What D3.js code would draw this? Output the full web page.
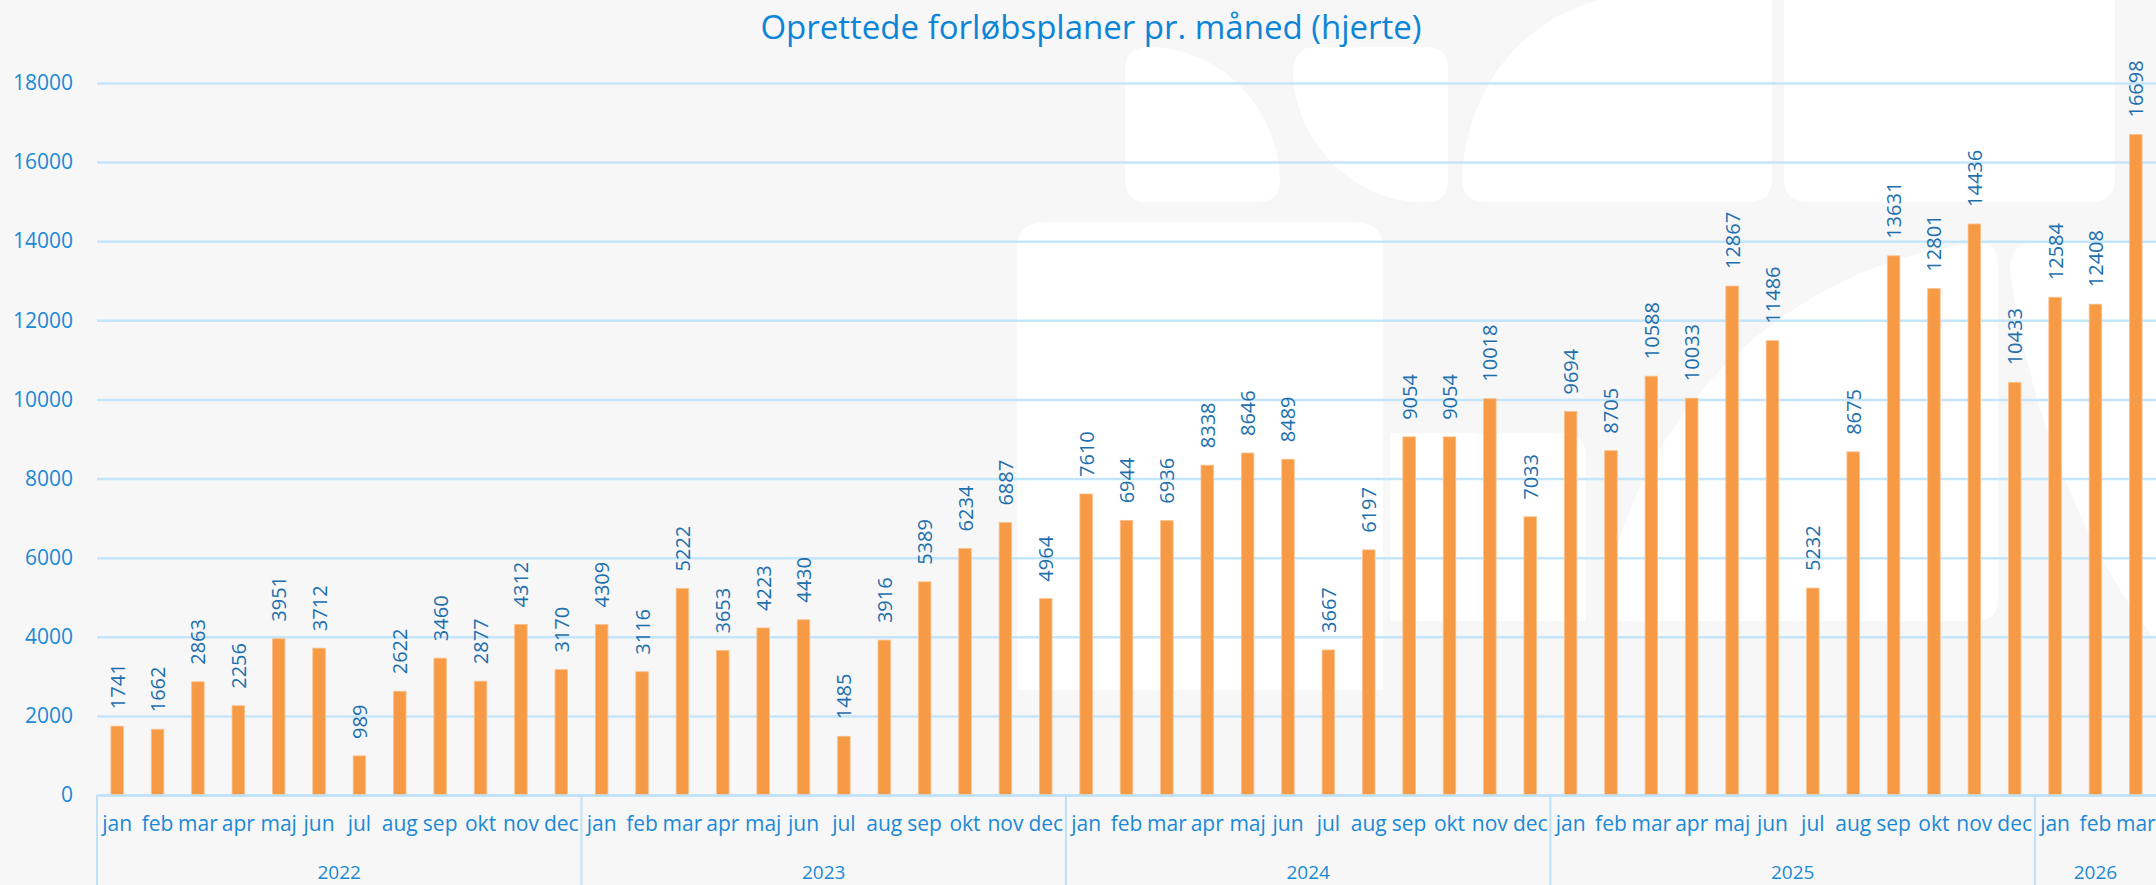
<!DOCTYPE html>
<html>
<head>
<meta charset="utf-8">
<script src="https://cdn.jsdelivr.net/npm/d3@7"></script>
<style>
  html, body { margin: 0; padding: 0; background: #f7f7f7; }
  svg { display: block; font-family: "Open Sans", sans-serif; }
</style>
</head>
<body>
<div id="chart"></div>
<script>
// months per year, as shown on the two-level x axis
const years = ["2022", "2023", "2024", "2025", "2026"];
const monthNames = ["jan", "feb", "mar", "apr", "maj", "jun", "jul", "aug", "sep", "okt", "nov", "dec"];
const monthsPerYear = [12, 12, 12, 12, 3];

const values2022 = [1741, 1662, 2863, 2256, 3951, 3712, 989, 2622, 3460, 2877, 4312, 3170];
const values2023 = [4309, 3116, 5222, 3653, 4223, 4430, 1485, 3916, 5389, 6234, 6887, 4964];
const values2024 = [7610, 6944, 6936, 8338, 8646, 8489, 3667, 6197, 9054, 9054, 10018, 7033];
const values2025 = [9694, 8705, 10588, 10033, 12867, 11486, 5232, 8675, 13631, 12801, 14436, 10433];
const values2026 = [12584, 12408, 16698];

const yTicks = [0, 2000, 4000, 6000, 8000, 10000, 12000, 14000, 16000, 18000];

const title = "Oprettede forløbsplaner pr. måned (hjerte)";

// flatten into one row per bar
const allValues = [values2022, values2023, values2024, values2025, values2026];
const data = [];
years.forEach((yr, i) => {
  allValues[i].forEach((v, m) => {
    data.push({ key: yr + "-" + m, year: yr, month: monthNames[m], value: v });
  });
});

const width = 2156;
const height = 885;
const margin = { top: 83, right: 0, bottom: 90, left: 97 };

const svg = d3.select("#chart")
  .append("svg")
  .attr("width", width)
  .attr("height", height);

svg.append("rect").attr("width", width).attr("height", height).attr("fill", "#f7f7f7");

// faint watermark shapes in the background
const shapes = [
  "M1150,47 C1230,50 1278,115 1280,180 Q1280,202 1258,202 L1147,202 Q1125,202 1125,180 L1125,69 Q1125,47 1150,47 Z",
  "M1315,47 L1426,47 Q1448,47 1448,69 L1448,180 Q1448,202 1426,202 L1420,202 C1350,200 1296,140 1293,75 Q1293,47 1315,47 Z",
  "M1600,0 L1772,0 L1772,178 Q1772,202 1748,202 L1486,202 Q1462,202 1462,178 C1466,90 1520,20 1600,0 Z",
  "M1784,0 L2115,0 L2115,178 Q2115,202 2091,202 L1808,202 Q1784,202 1784,178 Z",
  "M1045,222 L1355,222 Q1383,222 1383,250 L1383,690 L1017,690 L1017,250 Q1017,222 1045,222 Z",
  "M1390,433 L1562,433 Q1586,433 1586,457 L1586,621 L1390,621 Z",
  "M1980,243 Q1998,243 1998,265 L1998,600 Q1998,621 1976,621 L1626,621 Q1604,621 1604,600 C1640,400 1800,260 1980,243 Z",
  "M2034,243 L2156,243 L2156,640 C2090,560 2030,420 2010,270 Q2010,243 2034,243 Z"
];
svg.append("g").selectAll("path")
  .data(shapes)
  .enter()
  .append("path")
  .attr("d", (d) => d)
  .attr("fill", "#ffffff");

// scales
const x = d3.scaleBand()
  .domain(data.map((d) => d.key))
  .range([margin.left, width - margin.right])
  .padding(0);

const y = d3.scaleLinear()
  .domain([0, 18000])
  .range([height - margin.bottom, margin.top]);

const barW = x.bandwidth() * 0.31;

// gridlines
svg.append("g")
  .attr("transform", `translate(${margin.left},0)`)
  .call(d3.axisLeft(y).tickValues(yTicks).tickSize(-(width - margin.left)).tickFormat(""))
  .call((g) => g.select(".domain").remove())
  .call((g) => g.selectAll("line").attr("stroke", "#c4e5fa").attr("stroke-width", 2.5));

// y axis labels
svg.append("g")
  .attr("transform", `translate(${margin.left},0)`)
  .call(d3.axisLeft(y).tickValues(yTicks).tickSize(0).tickPadding(24).tickFormat(d3.format("d")))
  .call((g) => g.select(".domain").remove())
  .call((g) => g.selectAll("text")
    .attr("fill", "#1b89d6")
    .style("font-size", "21px")
    .style("font-family", "Open Sans"));

// bars
svg.append("g")
  .selectAll("rect")
  .data(data)
  .enter()
  .append("rect")
  .attr("x", (d) => x(d.key) + (x.bandwidth() - barW) / 2)
  .attr("y", (d) => y(d.value))
  .attr("width", barW)
  .attr("height", (d) => y(0) - y(d.value))
  .attr("fill", "#f79a46")
  .attr("stroke", "#fbc08c")
  .attr("stroke-width", 0.8);

// value labels, rotated
svg.append("g")
  .selectAll("text")
  .data(data)
  .enter()
  .append("text")
  .attr("transform", (d) => `translate(${x(d.key) + x.bandwidth() / 2 + 7.5},${y(d.value) - 17}) rotate(-90)`)
  .attr("fill", "#1d6fae")
  .style("font-size", "20px")
  .text((d) => d.value);

// x axis: months
const xAxis = svg.append("g")
  .attr("transform", `translate(0,${height - margin.bottom})`)
  .call(d3.axisBottom(x).tickSize(0).tickPadding(21).tickFormat((k) => data.find((d) => d.key === k).month));
xAxis.select(".domain").attr("stroke", "#bfe2f8").attr("stroke-width", 2.5);
xAxis.selectAll("text")
  .attr("fill", "#1b89d6")
  .style("font-size", "21px")
  .style("font-family", "Open Sans");

// year separators and year labels
let start = 0;
const yearGroups = years.map((yr, i) => {
  const first = data[start].key;
  const last = data[start + monthsPerYear[i] - 1].key;
  start += monthsPerYear[i];
  return { year: yr, x0: x(first), x1: x(last) + x.bandwidth() };
});

svg.append("g")
  .selectAll("line")
  .data(yearGroups)
  .enter()
  .append("line")
  .attr("x1", (d) => d.x0)
  .attr("x2", (d) => d.x0)
  .attr("y1", y(0))
  .attr("y2", height)
  .attr("stroke", "#bfe2f8")
  .attr("stroke-width", 2);

svg.append("g")
  .selectAll("text")
  .data(yearGroups)
  .enter()
  .append("text")
  .attr("x", (d) => (d.x0 + d.x1) / 2)
  .attr("y", 879)
  .attr("text-anchor", "middle")
  .attr("fill", "#1b89d6")
  .style("font-size", "19px")
  .text((d) => d.year);

// title
svg.append("text")
  .attr("x", 1091)
  .attr("y", 39)
  .attr("text-anchor", "middle")
  .attr("fill", "#0c85d8")
  .style("font-size", "33px")
  .text(title);
</script>
</body>
</html>
